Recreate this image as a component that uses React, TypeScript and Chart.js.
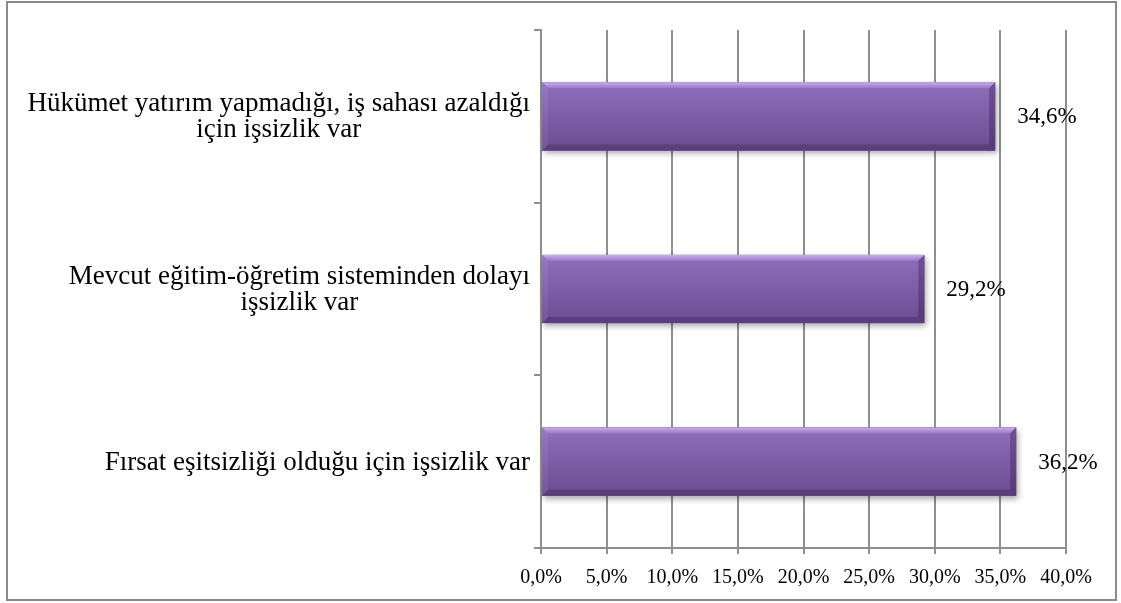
import React, { useEffect, useRef } from "react";
import { Chart, registerables } from "chart.js";

Chart.register(...registerables);

const categories: string[][] = [
  ["Hükümet yatırım yapmadığı, iş sahası azaldığı", "için işsizlik var"],
  ["Mevcut eğitim-öğretim sisteminden dolayı", "işsizlik var"],
  ["Fırsat eşitsizliği olduğu için işsizlik var"],
];
const values: number[] = [34.6, 29.2, 36.2];
const xTicks: number[] = [0, 5, 10, 15, 20, 25, 30, 35, 40];

const FONT = '"Liberation Serif", "Times New Roman", serif';
const fmt = (v: number) => v.toFixed(1).replace(".", ",") + "%";

const framePlugin = {
  id: "frame",
  beforeDraw(chart: any) {
    const ctx = chart.ctx;
    ctx.save();
    ctx.fillStyle = "#ffffff";
    ctx.fillRect(0, 0, chart.width, chart.height);
    ctx.strokeStyle = "#8a8a8a";
    ctx.lineWidth = 2;
    ctx.strokeRect(7, 2, 1109, 598);
    ctx.restore();
  },
};

function barRect(el: any) {
  const l = Math.min(el.base, el.x);
  const r = Math.max(el.base, el.x);
  const t = el.y - el.height / 2;
  const b = el.y + el.height / 2;
  return { l, r, t, b };
}

const bevelPlugin = {
  id: "bevel",
  beforeDatasetsDraw(chart: any) {
    const ctx = chart.ctx;
    const meta = chart.getDatasetMeta(0);
    ctx.save();
    meta.data.forEach((el: any) => {
      const { l, r, t, b } = barRect(el);
      ctx.shadowColor = "rgba(0,0,0,0.35)";
      ctx.shadowBlur = 6;
      ctx.shadowOffsetX = 2;
      ctx.shadowOffsetY = 3;
      ctx.fillStyle = "#6f4f96";
      ctx.fillRect(l, t, r - l, b - t);
    });
    ctx.restore();
  },
  afterDatasetsDraw(chart: any) {
    const ctx = chart.ctx;
    const meta = chart.getDatasetMeta(0);
    ctx.save();
    meta.data.forEach((el: any) => {
      const { l, r, t, b } = barRect(el);
      const bv = 6;
      const g = ctx.createLinearGradient(0, t, 0, b);
      g.addColorStop(0, "#8f6fbb");
      g.addColorStop(0.5, "#7d5da7");
      g.addColorStop(1, "#6b4b8e");
      ctx.fillStyle = g;
      ctx.fillRect(l, t, r - l, b - t);
      const poly = (pts: number[][], fill: any) => {
        ctx.beginPath();
        ctx.moveTo(pts[0][0], pts[0][1]);
        for (let i = 1; i < pts.length; i++) ctx.lineTo(pts[i][0], pts[i][1]);
        ctx.closePath();
        ctx.fillStyle = fill;
        ctx.fill();
      };
      const gt = ctx.createLinearGradient(0, t, 0, t + bv);
      gt.addColorStop(0, "#caabf2");
      gt.addColorStop(1, "#9878c5");
      poly([[l, t], [r, t], [r - bv, t + bv], [l + bv, t + bv]], gt);
      poly([[l, b], [r, b], [r - bv, b - bv], [l + bv, b - bv]], "#5b3f7c");
      const gl = ctx.createLinearGradient(0, t, 0, b);
      gl.addColorStop(0, "#9677c2");
      gl.addColorStop(1, "#75559b");
      poly([[l, t], [l + bv, t + bv], [l + bv, b - bv], [l, b]], gl);
      const gr = ctx.createLinearGradient(0, t, 0, b);
      gr.addColorStop(0, "#6f5196");
      gr.addColorStop(1, "#553a75");
      poly([[r, t], [r - bv, t + bv], [r - bv, b - bv], [r, b]], gr);
    });
    ctx.restore();
  },
};

const labelsPlugin = {
  id: "textLabels",
  afterDraw(chart: any) {
    const ctx = chart.ctx;
    const yScale = chart.scales.y;
    const meta = chart.getDatasetMeta(0);
    ctx.save();
    ctx.fillStyle = "#000000";
    // category labels: each label right-aligned as a block, lines centered within it
    ctx.font = `27px ${FONT}`;
    ctx.textBaseline = "middle";
    ctx.textAlign = "center";
    const lh = 26;
    const rightEdge = yScale.right - 11;
    categories.forEach((lines, i) => {
      const cy = yScale.getPixelForValue(i) + 1;
      const maxW = Math.max(...lines.map((s) => ctx.measureText(s).width));
      const cx = rightEdge - maxW / 2;
      const y0 = cy - ((lines.length - 1) * lh) / 2;
      lines.forEach((s, j) => ctx.fillText(s, cx, y0 + j * lh));
    });
    // value labels
    ctx.font = `23px ${FONT}`;
    ctx.textAlign = "left";
    meta.data.forEach((el: any, i: number) => {
      ctx.fillText(fmt(values[i]), el.x + 22, el.y + 1);
    });
    ctx.restore();
  },
};

export default function App() {
  const ref = useRef<HTMLCanvasElement | null>(null);
  useEffect(() => {
    if (!ref.current) return;
    const chart = new Chart(ref.current, {
      type: "bar",
      data: {
        labels: categories.map((c) => c.join(" ")),
        datasets: [
          {
            data: values,
            backgroundColor: "#7d5da7",
            borderWidth: 0,
            barPercentage: 0.395,
            categoryPercentage: 1,
          },
        ],
      },
      options: {
        indexAxis: "y",
        responsive: false,
        animation: false,
        layout: { padding: { left: 0, right: 55, top: 30, bottom: 0 } },
        plugins: {
          legend: { display: false },
          tooltip: { enabled: false },
        },
        scales: {
          x: {
            type: "linear",
            min: 0,
            max: 40,
            afterBuildTicks: (scale: any) => {
              scale.ticks = xTicks.map((v) => ({ value: v }));
            },
            afterFit: (scale: any) => {
              scale.height = 55;
            },
            ticks: {
              callback: (v: any) => fmt(Number(v)),
              font: { family: FONT, size: 20 },
              color: "#000000",
              padding: 12,
              maxRotation: 0,
            },
            grid: {
              color: "#8f8f8f",
              lineWidth: 2,
              tickLength: 6,
              drawTicks: true,
            },
            border: { display: true, color: "#8f8f8f", width: 2 },
          },
          y: {
            type: "category",
            offset: true,
            afterFit: (scale: any) => {
              scale.width = 541;
            },
            ticks: { display: false },
            grid: {
              offset: true,
              drawOnChartArea: false,
              drawTicks: true,
              tickLength: 7,
              color: "#8f8f8f",
              lineWidth: 2,
            },
            border: { display: true, color: "#8f8f8f", width: 2 },
          },
        },
      },
      plugins: [framePlugin, bevelPlugin, labelsPlugin],
    });
    return () => chart.destroy();
  }, []);
  return (
    <div style={{ position: "absolute", left: 0, top: 0, width: 1121, height: 603 }}>
      <canvas ref={ref} width={1121} height={603} style={{ display: "block" }} />
    </div>
  );
}
